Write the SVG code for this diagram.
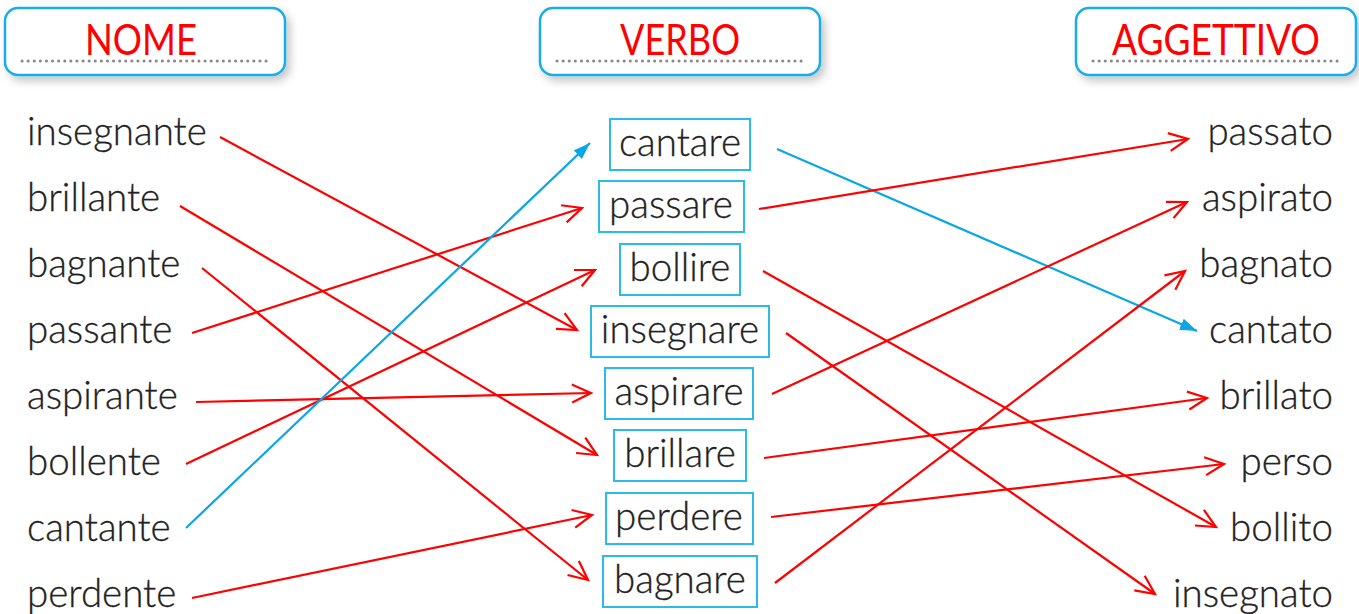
<svg xmlns="http://www.w3.org/2000/svg" width="1359" height="614" viewBox="0 0 1359 614">
<defs>
<filter id="sh" x="-10%" y="-20%" width="125%" height="160%">
<feDropShadow dx="4" dy="5" stdDeviation="4" flood-color="#000" flood-opacity="0.22"/>
</filter>
<marker id="ar" markerUnits="userSpaceOnUse" markerWidth="24" markerHeight="24" viewBox="0 0 24 24" refX="21" refY="12" orient="auto">
<path d="M2,3 L21,12 L2,21" fill="none" stroke="#ff0000" stroke-width="2.2"/>
</marker>
<marker id="ab" markerUnits="userSpaceOnUse" markerWidth="18" markerHeight="14" viewBox="0 0 18 14" refX="17" refY="7" orient="auto">
<path d="M0,1 L17,7 L0,13 Z" fill="#0aa6e6"/>
</marker>
</defs>
<style>
.hd{fill:#fff;stroke:#18aee8;stroke-width:2.5}
.dot{stroke:#888;stroke-width:3;stroke-dasharray:0.1 6;stroke-linecap:round;fill:none}
.ht{font-family:Lato,"Liberation Sans",sans-serif;font-size:42px;fill:#ff0000;text-anchor:middle}
.t{font-family:Lato,"Open Sans",sans-serif;font-weight:300;font-size:38.5px;fill:#222;stroke:#222;stroke-width:0.3}
.r{text-anchor:end}
.c{text-anchor:middle}
.vb{fill:#fff;stroke:#2bbbe8;stroke-width:2}
.lr{stroke:#ff0000;stroke-width:2.2;fill:none;marker-end:url(#ar)}
.lb{stroke:#0aa6e6;stroke-width:2.2;fill:none;marker-end:url(#ab)}
</style>
<rect width="1359" height="614" fill="#fff"/>
<g id="h-nome">
<rect class="hd" x="5" y="8" width="280" height="67" rx="13" filter="url(#sh)"/>
<line class="dot" x1="22" y1="61" x2="268" y2="61"/>
<text class="ht" x="141" y="55" textLength="112" lengthAdjust="spacingAndGlyphs">NOME</text>
</g>
<g id="h-verbo">
<rect class="hd" x="540" y="8" width="280" height="67" rx="13" filter="url(#sh)"/>
<line class="dot" x1="557" y1="61" x2="803" y2="61"/>
<text class="ht" x="680" y="55" textLength="120" lengthAdjust="spacingAndGlyphs">VERBO</text>
</g>
<g id="h-aggettivo">
<rect class="hd" x="1076" y="8" width="280" height="67" rx="13" filter="url(#sh)"/>
<line class="dot" x1="1093" y1="61" x2="1339" y2="61"/>
<text class="ht" x="1216" y="55" textLength="208" lengthAdjust="spacingAndGlyphs">AGGETTIVO</text>
</g>
<g id="nomi">
<text class="t" x="27" y="145">insegnante</text>
<text class="t" x="27" y="211">brillante</text>
<text class="t" x="27" y="277">bagnante</text>
<text class="t" x="27" y="343">passante</text>
<text class="t" x="27" y="409">aspirante</text>
<text class="t" x="27" y="475">bollente</text>
<text class="t" x="27" y="541">cantante</text>
<text class="t" x="27" y="607">perdente</text>
</g>
<g id="v-cantare"><rect class="vb" x="610" y="119" width="140" height="51"/><text class="t c" x="680" y="156">cantare</text></g>
<g id="v-passare"><rect class="vb" x="599" y="181" width="145" height="51"/><text class="t c" x="671" y="218">passare</text></g>
<g id="v-bollire"><rect class="vb" x="620" y="244" width="120" height="51"/><text class="t c" x="680" y="281">bollire</text></g>
<g id="v-insegnare"><rect class="vb" x="591" y="306" width="178" height="51"/><text class="t c" x="680" y="343">insegnare</text></g>
<g id="v-aspirare"><rect class="vb" x="605" y="368" width="148" height="51"/><text class="t c" x="679" y="405">aspirare</text></g>
<g id="v-brillare"><rect class="vb" x="614" y="430" width="132" height="51"/><text class="t c" x="680" y="467">brillare</text></g>
<g id="v-perdere"><rect class="vb" x="606" y="493" width="147" height="51"/><text class="t c" x="679" y="530">perdere</text></g>
<g id="v-bagnare"><rect class="vb" x="603" y="556" width="154" height="51"/><text class="t c" x="680" y="593">bagnare</text></g>
<g id="aggettivi">
<text class="t r" x="1333" y="145">passato</text>
<text class="t r" x="1333" y="211">aspirato</text>
<text class="t r" x="1333" y="277">bagnato</text>
<text class="t r" x="1333" y="343">cantato</text>
<text class="t r" x="1333" y="409">brillato</text>
<text class="t r" x="1333" y="475">perso</text>
<text class="t r" x="1333" y="541">bollito</text>
<text class="t r" x="1333" y="607">insegnato</text>
</g>
<g id="connectors">
<line class="lr" x1="220" y1="137" x2="577" y2="330"/>
<line class="lr" x1="180" y1="206" x2="597" y2="455"/>
<line class="lr" x1="202" y1="268" x2="588" y2="580"/>
<line class="lr" x1="192" y1="333" x2="582" y2="208"/>
<line class="lr" x1="196" y1="402" x2="591" y2="393"/>
<line class="lr" x1="186" y1="464" x2="595" y2="270"/>
<line class="lb" x1="186" y1="528" x2="590" y2="143"/>
<line class="lr" x1="192" y1="598" x2="592" y2="515"/>
<line class="lb" x1="777" y1="149" x2="1197" y2="331"/>
<line class="lr" x1="759" y1="209" x2="1188" y2="139"/>
<line class="lr" x1="763" y1="271" x2="1216" y2="527"/>
<line class="lr" x1="786" y1="333" x2="1155" y2="594"/>
<line class="lr" x1="772" y1="394" x2="1187" y2="202"/>
<line class="lr" x1="764" y1="458" x2="1207" y2="398"/>
<line class="lr" x1="771" y1="517" x2="1224" y2="464"/>
<line class="lr" x1="775" y1="583" x2="1185" y2="271"/>
</g>
</svg>
